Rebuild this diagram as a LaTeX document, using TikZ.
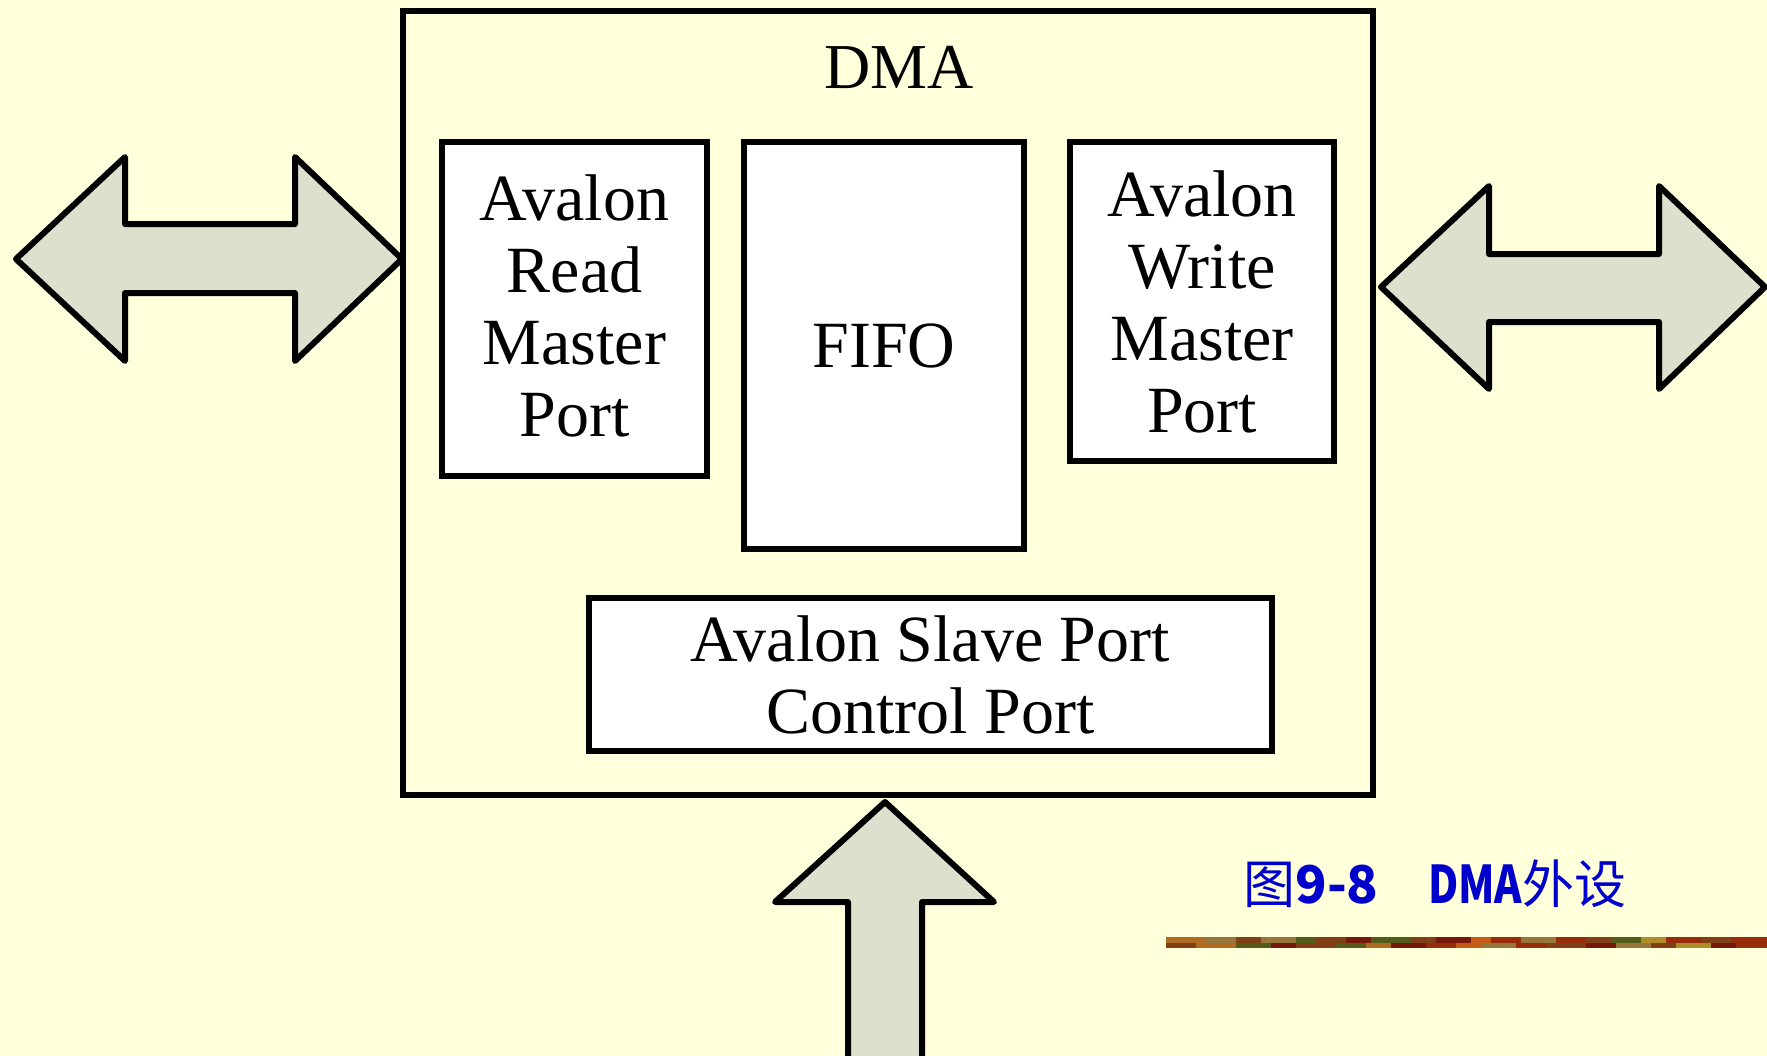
\documentclass[tikz,border=0pt]{standalone}
\usepackage{fontspec}
\setmainfont{Liberation Serif}
\newfontfamily\cjk{Noto Sans CJK SC}
\usetikzlibrary{fit}
\definecolor{bgyellow}{RGB}{255,255,220}
\definecolor{arrowfill}{RGB}{220,224,204}
\definecolor{capblue}{RGB}{0,0,204}
\definecolor{barA}{RGB}{176,108,34}
\definecolor{barB}{RGB}{150,118,60}
\definecolor{barC}{RGB}{128,64,20}
\definecolor{barD}{RGB}{118,24,10}
\definecolor{barE}{RGB}{84,92,24}
\definecolor{barF}{RGB}{196,92,22}
\definecolor{barG}{RGB}{150,44,12}
\definecolor{barH}{RGB}{176,140,40}
\tikzset{
  box/.style={draw=black, line width=3pt, fill=white, inner sep=0pt},
  boxtext/.style={align=center, inner sep=0pt, font=\fontsize{33}{36}\selectfont},
  outerbox/.style={draw=black, line width=3pt, inner sep=0pt},
  fatarrow/.style={draw=black, line width=3pt, fill=arrowfill, line join=round},
  title/.style={font=\fontsize{32}{36}\selectfont},
  caption/.style={text=capblue, font=\cjk\fontsize{26}{30}\selectfont, anchor=west, inner sep=0pt}
}
\begin{document}
\begin{tikzpicture}[x=0.5pt,y=-0.5pt]
\fill[bgyellow] (0,0) rectangle (1767,1055);
\useasboundingbox (0,0) rectangle (1767,1055);
\clip (0,0) rectangle (1767,1055);

% outer DMA box
\node[outerbox, fit={(403,11) (1373,795)}] (dma) {};
\node[title] (dmatitle) at (899,67) {DMA};

% inner boxes
\node[box, fit={(442,142) (707,476)}] (read) {};
\node[boxtext] (readtext) at ([yshift=1.5pt]read.center) {Avalon\\Read\\Master\\Port};
\node[box, fit={(744,142) (1024,549)}] (fifo) {};
\node[boxtext] (fifotext) at (fifo.center) {FIFO};
\node[box, fit={(1070,142) (1334,461)}] (write) {};
\node[boxtext] (writetext) at (write.center) {Avalon\\Write\\Master\\Port};
\node[box, fit={(589,598) (1272,751)}] (slave) {};
\node[boxtext] (slavetext) at (slave.center) {Avalon Slave Port\\Control Port};

% left double arrow
\draw[fatarrow] (16,259) -- (125,157) -- (125,224) -- (295,224) -- (295,157) -- (402,259)
  -- (295,361) -- (295,293) -- (125,293) -- (125,361) -- cycle;
% right double arrow
\draw[fatarrow] (1381,287) -- (1489,186) -- (1489,254) -- (1659,254) -- (1659,186) -- (1765,287)
  -- (1659,389) -- (1659,322) -- (1489,322) -- (1489,389) -- cycle;
% up arrow
\draw[fatarrow] (885,802) -- (994,902) -- (922,902) -- (922,1070) -- (848,1070) -- (848,902)
  -- (775,902) -- cycle;

% caption
\node[caption] (cap) at (1243,884) {图{\bfseries 9-8}\hspace{0.95em}{\bfseries\scalebox{0.8}[1]{DMA}}外设};

% decorative bar
\foreach \x/\w/\c in {1166/40/barA,1206/30/barB,1236/25/barC,1261/35/barB,1296/20/barE,
  1316/30/barC,1346/25/barD,1371/40/barE,1411/25/barC,1436/35/barD,1471/20/barF,1491/30/barG,
  1521/35/barB,1556/30/barG,1586/25/barC,1611/30/barE,1641/25/barH,1666/35/barG,1701/30/barC,1731/36/barG}
  \fill[\c] (\x,937) rectangle ++(\w,6);
\foreach \x/\w/\c in {1166/30/barC,1196/40/barA,1236/35/barE,1271/25/barD,1296/40/barC,
  1336/30/barE,1366/25/barA,1391/35/barD,1426/30/barG,1456/25/barF,1481/35/barB,1516/30/barG,
  1546/40/barC,1586/30/barD,1616/35/barB,1651/25/barC,1676/35/barH,1711/25/barD,1736/31/barG}
  \fill[\c] (\x,943) rectangle ++(\w,5);
\end{tikzpicture}
\end{document}
